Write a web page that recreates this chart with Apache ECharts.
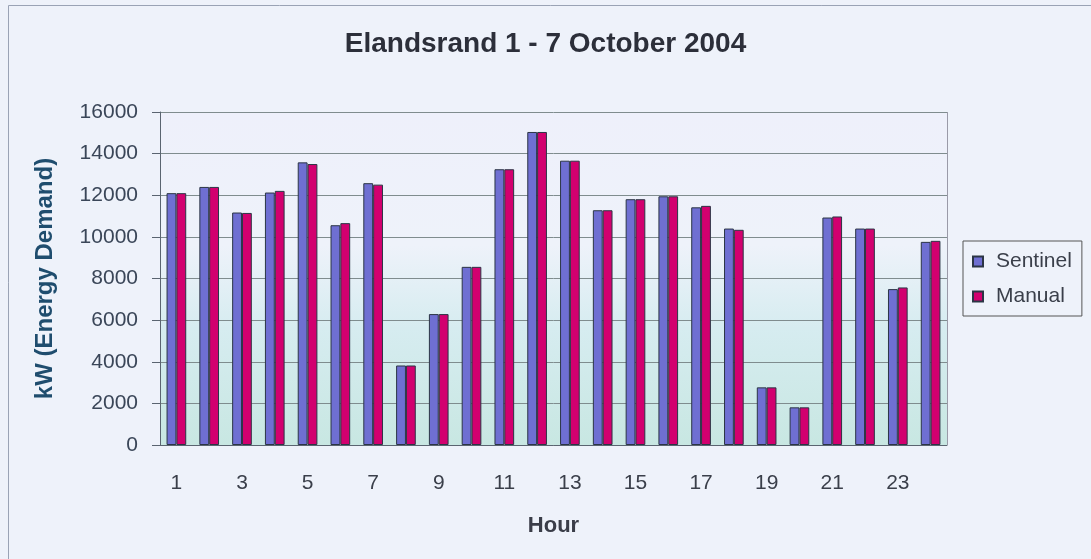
<!DOCTYPE html>
<html>
<head>
<meta charset="utf-8">
<script src="https://cdn.jsdelivr.net/npm/echarts@6/dist/echarts.min.js"></script>
<style>
html,body{margin:0;padding:0;background:#eef2fa;}
#chart{width:1091px;height:559px;}
</style>
</head>
<body>
<div id="chart"></div>
<script>
const hours = ['1','2','3','4','5','6','7','8','9','10','11','12','13','14','15','16','17','18','19','20','21','22','23','24'];
const sentinel = [12100,12400,11170,12130,13580,10560,12580,3820,6290,8560,13250,15040,13660,11280,11810,11950,11420,10400,2770,1810,10930,10400,7490,9760];
const manual   = [12100,12400,11150,12210,13500,10660,12510,3820,6290,8560,13250,15040,13660,11280,11810,11950,11490,10340,2770,1810,10980,10400,7570,9810];
const yTicks = {min:0, max:16000, interval:2000};

const font = '"Liberation Sans", Arial, sans-serif';
const chart = echarts.init(document.getElementById('chart'));
chart.setOption({
  backgroundColor: '#eef2fa',
  animation: false,
  textStyle: {fontFamily: font},
  title: {
    text: 'Elandsrand 1 - 7 October 2004',
    left: 'center', top: 25,
    textStyle: {fontFamily: font, fontSize: 28, fontWeight: 'bold', color: '#2c2f3a'}
  },
  graphic: [{
    type: 'rect', silent: true, z: -1,
    shape: {x: 8.5, y: 5.5, width: 1100, height: 600},
    style: {fill: 'none', stroke: '#9aa3b5', lineWidth: 1}
  },{
    type: 'line', silent: true,
    shape: {x1: 947.5, y1: 112, x2: 947.5, y2: 445},
    style: {stroke: '#9a9aa8', lineWidth: 1}
  }],
  legend: {
    orient: 'vertical',
    left: 963, top: 241,
    padding: [10, 10, 9, 9],
    itemGap: 14,
    itemWidth: 10, itemHeight: 10,
    borderColor: '#555', borderWidth: 1,
    backgroundColor: '#eef2fa',
    icon: 'rect',
    textStyle: {fontFamily: font, fontSize: 21, color: '#3a3f4a', padding: [0,0,0,8]},
    data: ['Sentinel','Manual']
  },
  grid: {
    left: 160, right: 144, top: 112, bottom: 114,
    show: true, borderWidth: 0,
    backgroundColor: {
      type: 'linear', x: 0, y: 0, x2: 0, y2: 1,
      colorStops: [
        {offset: 0, color: '#eef0fb'},
        {offset: 0.4, color: '#eef2fa'},
        {offset: 0.65, color: '#d6ecf0'},
        {offset: 1, color: '#c8e7e2'}
      ]
    }
  },
  xAxis: {
    type: 'category',
    data: hours,
    name: 'Hour',
    nameLocation: 'middle',
    nameGap: 70,
    nameTextStyle: {fontFamily: font, fontSize: 22, fontWeight: 'bold', color: '#3a3d48'},
    axisLine: {lineStyle: {color: '#5a6470', width: 1}},
    axisTick: {interval: 0, length: 6, lineStyle: {color: '#5a6470'}},
    axisLabel: {interval: 1, margin: 28, fontSize: 21, color: '#3a3f4a', fontFamily: font}
  },
  yAxis: {
    type: 'value',
    min: yTicks.min, max: yTicks.max, interval: yTicks.interval,
    name: 'kW (Energy Demand)',
    nameLocation: 'middle',
    nameGap: 103,
    nameTextStyle: {fontFamily: font, fontSize: 24, fontWeight: 'bold', color: '#1f4d6e'},
    axisLine: {show: true, lineStyle: {color: '#5a6470', width: 1}},
    axisTick: {show: true, length: 8, lineStyle: {color: '#5a6470'}},
    axisLabel: {margin: 22, fontSize: 21, color: '#3a4658', fontFamily: font,
      formatter: function (v) { return String(v); }},
    splitLine: {lineStyle: {color: '#7f8c8e', width: 1}}
  },
  series: [{
    name: 'Sentinel', type: 'bar', data: sentinel,
    barGap: '0%', barCategoryGap: '40%',
    itemStyle: {color: '#6f6fd2', borderColor: '#2b3545', borderWidth: 1}
  },{
    name: 'Manual', type: 'bar', data: manual,
    barGap: '0%', barCategoryGap: '40%',
    itemStyle: {color: '#d2006f', borderColor: '#2b3545', borderWidth: 1}
  }]
});
</script>
</body>
</html>
